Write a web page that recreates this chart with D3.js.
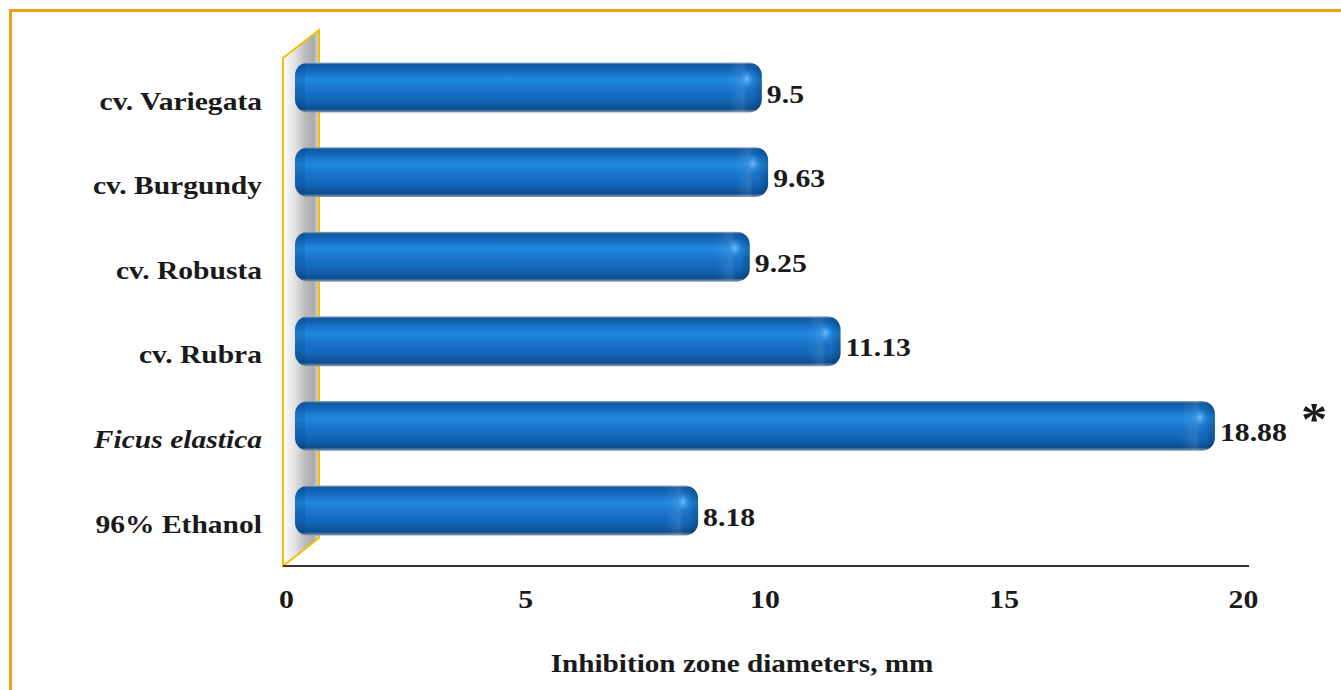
<!DOCTYPE html>
<html>
<head>
<meta charset="utf-8">
<script src="https://cdn.jsdelivr.net/npm/d3@7"></script>
<style>
  html, body { margin: 0; padding: 0; background: #fff; }
  svg { display: block; }
  text { font-family: "Liberation Serif", "Times New Roman", serif; font-weight: bold; fill: #1a1a1a; }
</style>
</head>
<body>
<svg id="chart" width="1341" height="690"></svg>
<script>
// Categories, top to bottom
const categories = ["cv. Variegata", "cv. Burgundy", "cv. Robusta", "cv. Rubra", "Ficus elastica", "96% Ethanol"];
// Inhibition zone diameters (mm)
const values = [9.5, 9.63, 9.25, 11.13, 18.88, 8.18];
const valueLabels = ["9.5", "9.63", "9.25", "11.13", "18.88", "8.18"];
const italicCategories = ["Ficus elastica"];
const significant = ["Ficus elastica"];
const xTicks = [0, 5, 10, 15, 20];
const xTitle = "Inhibition zone diameters, mm";

const svg = d3.select("#chart");
const defs = svg.append("defs");

// widen the serif face a little (wide book-style serif look)
const stretch = 1.145;
function place(sel, fx, fy) {
  sel.attr("x", 0).attr("y", 0)
    .attr("transform", (d, i) => `translate(${fx(d, i)},${fy(d, i)}) scale(${stretch},1)`);
}

// page frame (top and left rules only)
svg.append("path")
  .attr("d", "M10.5,1000 L10.5,10.5 L2000,10.5")
  .attr("fill", "none").attr("stroke", "#EBA219").attr("stroke-width", 3);

// oblique depth of the 3D chart (front plane -> back plane)
const depth = { dx: 36, dy: -28 };

// front-plane axis scale
const x = d3.scaleLinear().domain([0, 20]).range([286, 1243]);
// bars sit in the mid-depth plane
const xBar = d3.scaleLinear().domain([0, 20]).range([303, 1269]);

const y = d3.scaleBand().domain(categories)
  .range([45.2, 552.8]).paddingInner(0.41).paddingOuter(0.205);

const floorY = 566;
const wallX = 283;

// ---- side wall ----
const wallGrad = defs.append("linearGradient").attr("id", "wallGrad")
  .attr("x1", "0").attr("x2", "1").attr("y1", "0").attr("y2", "0");
[["0%", "#fdfdfd"], ["30%", "#e6e6e6"], ["60%", "#bdbdbd"], ["85%", "#ababab"], ["100%", "#dcdcdc"]]
  .forEach(([o, c]) => wallGrad.append("stop").attr("offset", o).attr("stop-color", c));

const wallTop = 58;
svg.append("path")
  .attr("d", `M${wallX},${wallTop} L${wallX + depth.dx},${wallTop + depth.dy} L${wallX + depth.dx},${floorY + depth.dy} L${wallX},${floorY} Z`)
  .attr("fill", "url(#wallGrad)")
  .attr("stroke", "#F5C000").attr("stroke-width", 2).attr("stroke-linejoin", "miter");

// ---- floor / x axis line ----
svg.append("line")
  .attr("x1", wallX).attr("x2", 1249)
  .attr("y1", floorY).attr("y2", floorY)
  .attr("stroke", "#333").attr("stroke-width", 2.2);

// ---- bars ----
const barGrad = defs.append("linearGradient").attr("id", "barGrad")
  .attr("x1", "0").attr("x2", "0").attr("y1", "0").attr("y2", "1");
[["0%", "#9fb2c6"], ["4%", "#1158a3"], ["14%", "#1366b8"], ["34%", "#2189e0"], ["52%", "#1876cc"],
 ["78%", "#1263b4"], ["93%", "#0c4c8f"], ["100%", "#8f9db0"]]
  .forEach(([o, c]) => barGrad.append("stop").attr("offset", o).attr("stop-color", c));

const capGrad = defs.append("linearGradient").attr("id", "capGrad")
  .attr("x1", "0").attr("x2", "1").attr("y1", "0").attr("y2", "0");
[["0%", "#ffffff", 0], ["45%", "#ffffff", 0.10], ["70%", "#000000", 0.0], ["100%", "#001a40", 0.28]]
  .forEach(([o, c, a]) => capGrad.append("stop").attr("offset", o).attr("stop-color", c).attr("stop-opacity", a));

const spotGrad = defs.append("radialGradient").attr("id", "spotGrad");
[["0%", "#7cc4ff", 0.9], ["100%", "#2a8ee6", 0]]
  .forEach(([o, c, a]) => spotGrad.append("stop").attr("offset", o).attr("stop-color", c).attr("stop-opacity", a));

const barStart = 295;
const bh = y.bandwidth();
const r = 13;

const rows = categories.map((c, i) => ({ cat: c, v: values[i], label: valueLabels[i] }));

const bars = svg.append("g").selectAll("g.bar")
  .data(rows)
  .join("g").attr("class", "bar");

bars.each(function (d, i) {
  const g = d3.select(this);
  const x1 = xBar(d.v);
  const y0 = y(d.cat);
  const w = x1 - barStart;
  const clipId = "clip" + i;
  defs.append("clipPath").attr("id", clipId)
    .append("rect").attr("x", barStart).attr("y", y0).attr("width", w).attr("height", bh)
    .attr("rx", r).attr("ry", r);

  g.append("rect")
    .attr("x", barStart).attr("y", y0).attr("width", w).attr("height", bh)
    .attr("rx", r).attr("ry", r)
    .attr("fill", "url(#barGrad)");

  // rounded end cap shading
  g.append("rect")
    .attr("clip-path", `url(#${clipId})`)
    .attr("x", x1 - 34).attr("y", y0).attr("width", 34).attr("height", bh)
    .attr("fill", "url(#capGrad)");
  g.append("ellipse")
    .attr("clip-path", `url(#${clipId})`)
    .attr("cx", x1 - 15).attr("cy", y0 + bh * 0.33).attr("rx", 7).attr("ry", 10)
    .attr("fill", "url(#spotGrad)");
  // left end shading
  g.append("rect")
    .attr("clip-path", `url(#${clipId})`)
    .attr("x", barStart).attr("y", y0).attr("width", 10).attr("height", bh)
    .attr("fill", "#06305f").attr("opacity", 0.15);
});

// ---- value labels ----
svg.append("g").selectAll("text")
  .data(rows)
  .join("text")
  .attr("font-size", 26)
  .text(d => d.label)
  .call(place, d => xBar(d.v) + 5, d => y(d.cat) + bh / 2 + 15);

// significance marker
svg.append("g").selectAll("text")
  .data(categories.filter(c => significant.includes(c)))
  .join("text")
  .attr("font-size", 46)
  .text("*")
  .call(place, d => xBar(values[categories.indexOf(d)]) + 86, d => y(d) + bh / 2 + 9);

// ---- category labels (front plane) ----
svg.append("g").selectAll("text")
  .data(categories)
  .join("text")
  .attr("text-anchor", "end")
  .attr("font-size", 25.8)
  .attr("font-style", d => italicCategories.includes(d) ? "italic" : "normal")
  .text(d => d)
  .call(place, () => 262, d => y(d) + bh / 2 + 22);

// ---- x axis ticks ----
const axis = svg.append("g").attr("transform", `translate(0,${floorY})`)
  .call(d3.axisBottom(x).tickValues(xTicks).tickSize(0).tickPadding(0).tickFormat(d3.format("d")));
axis.select(".domain").remove();
axis.selectAll("text")
  .attr("dy", null)
  .attr("font-size", 26)
  .style("font-family", "'Liberation Serif', serif")
  .style("font-weight", "bold")
  .attr("fill", "#1a1a1a")
  .attr("y", 0)
  .attr("transform", `translate(0,42) scale(${stretch},1)`);

// axis title
svg.append("text")
  .datum(xTitle)
  .attr("text-anchor", "middle")
  .attr("font-size", 25.5)
  .text(d => d)
  .call(place, () => 742, () => 672);
</script>
</body>
</html>
